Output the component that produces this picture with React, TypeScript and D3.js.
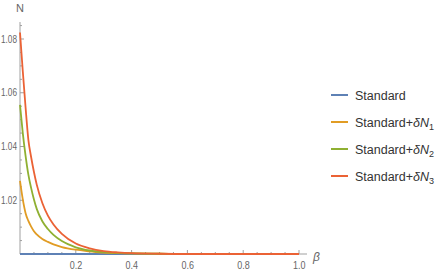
import React, { useEffect, useRef } from 'react';
import * as d3 from 'd3';

// beta sample points
const betas = [0, 0.01, 0.02, 0.03, 0.04, 0.05, 0.06, 0.08, 0.1, 0.12, 0.15, 0.2, 0.25, 0.3, 0.35, 0.4, 0.5, 0.6, 0.8, 1.0];

const standard = [1, 1, 1, 1, 1, 1, 1, 1, 1, 1, 1, 1, 1, 1, 1, 1, 1, 1, 1, 1];
const dN1 = [1.0272, 1.0203, 1.0152, 1.0123, 1.0102, 1.0085, 1.0073, 1.0056, 1.0045, 1.0036, 1.0026, 1.0016, 1.001, 1.0005, 1.0003, 1.0002, 1.0001, 1, 1, 1];
const dN2 = [1.0555, 1.045, 1.0365, 1.0295, 1.0245, 1.0203, 1.0168, 1.0122, 1.0093, 1.0071, 1.0048, 1.0025, 1.0013, 1.0007, 1.0004, 1.0002, 1.0001, 1, 1, 1];
const dN3 = [1.0824, 1.068, 1.0545, 1.0425, 1.036, 1.0305, 1.0258, 1.019, 1.0143, 1.011, 1.0075, 1.0039, 1.0021, 1.0011, 1.0006, 1.0003, 1.0001, 1, 1, 1];

const seriesNames = ['Standard', 'Standard+δN1', 'Standard+δN2', 'Standard+δN3'];
const colors = ['#5E81B5', '#E19C24', '#8FB032', '#EB6235'];

const xTicks = [0.2, 0.4, 0.6, 0.8, 1.0];
const yTicks = [1.02, 1.04, 1.06, 1.08];

const width = 436;
const height = 273;

const App = () => {
  const ref = useRef<SVGSVGElement>(null);

  useEffect(() => {
    const svg = d3.select(ref.current);
    svg.selectAll('*').remove();

    const x = d3.scaleLinear().domain([0, 1]).range([20, 299]);
    const y = d3.scaleLinear().domain([1, 1.08]).range([254, 39]);
    const axisColor = '#a0a0a0';
    const labelColor = '#666';
    const font = 'Liberation Sans, Arial, sans-serif';

    // x axis
    const gx = svg.append('g');
    gx.append('line')
      .attr('x1', x(0)).attr('x2', 307)
      .attr('y1', y(1)).attr('y2', y(1))
      .attr('stroke', axisColor);
    gx.selectAll('line.minor')
      .data(d3.range(0.05, 1.001, 0.05))
      .join('line')
      .attr('class', 'minor')
      .attr('x1', d => x(d)).attr('x2', d => x(d))
      .attr('y1', y(1)).attr('y2', d => y(1) - (xTicks.some(t => Math.abs(t - d) < 1e-6) ? 4 : 2))
      .attr('stroke', axisColor);
    gx.selectAll('text')
      .data(xTicks)
      .join('text')
      .attr('x', d => x(d) - 6)
      .attr('y', 269)
      .attr('textLength', 12.5)
      .attr('lengthAdjust', 'spacingAndGlyphs')
      .attr('fill', labelColor)
      .attr('font-family', font)
      .attr('font-size', 10.5)
      .text(d => d3.format('.1f')(d));
    svg.append('text')
      .attr('x', 313).attr('y', 261)
      .attr('fill', labelColor)
      .attr('font-family', font)
      .attr('font-style', 'italic')
      .attr('font-size', 12)
      .text('β');

    // y axis
    const gy = svg.append('g');
    gy.append('line')
      .attr('x1', x(0)).attr('x2', x(0))
      .attr('y1', y(1)).attr('y2', 22)
      .attr('stroke', axisColor);
    gy.selectAll('line.minor')
      .data(d3.range(1.005, 1.0851, 0.005))
      .join('line')
      .attr('class', 'minor')
      .attr('x1', x(0)).attr('x2', d => x(0) + (yTicks.some(t => Math.abs(t - d) < 1e-6) ? 4 : 2))
      .attr('y1', d => y(d)).attr('y2', d => y(d))
      .attr('stroke', axisColor);
    gy.selectAll('text')
      .data(yTicks)
      .join('text')
      .attr('x', 1)
      .attr('y', d => y(d) + 3.5)
      .attr('textLength', 16)
      .attr('lengthAdjust', 'spacingAndGlyphs')
      .attr('fill', labelColor)
      .attr('font-family', font)
      .attr('font-size', 10.5)
      .text(d => d3.format('.2f')(d));
    svg.append('text')
      .attr('x', 20).attr('y', 12)
      .attr('text-anchor', 'middle')
      .attr('fill', labelColor)
      .attr('font-family', font)
      .attr('font-size', 11)
      .text('N');

    // curves
    const allSeries = [standard, dN1, dN2, dN3];
    const line = d3.line<number>()
      .x((_, i) => x(betas[i]))
      .y(d => y(d))
      .curve(d3.curveMonotoneX);
    svg.append('g')
      .selectAll('path')
      .data(allSeries)
      .join('path')
      .attr('d', d => line(d))
      .attr('fill', 'none')
      .attr('stroke', (_, i) => colors[i])
      .attr('stroke-width', 1.8);

    // legend
    const legendY = d3.scalePoint<string>().domain(seriesNames).range([95, 176]);
    const lg = svg.append('g');
    seriesNames.forEach((name, i) => {
      const yy = legendY(name) as number;
      lg.append('line')
        .attr('x1', 331).attr('x2', 348)
        .attr('y1', yy).attr('y2', yy)
        .attr('stroke', colors[i])
        .attr('stroke-width', 2);
      const t = lg.append('text')
        .attr('x', 355).attr('y', yy + 4.5)
        .attr('fill', '#333')
        .attr('font-family', font)
        .attr('font-size', 12.5);
      if (i === 0) {
        t.text('Standard');
      } else {
        t.append('tspan').text('Standard+');
        t.append('tspan').attr('font-style', 'italic').text('δN');
        t.append('tspan').attr('dy', 3).attr('font-size', 9).text(String(i));
      }
    });
  }, []);

  return (
    <svg
      ref={ref}
      width={width}
      height={height}
      style={{ position: 'absolute', left: 0, top: 0, background: '#fff' }}
    />
  );
};

export default App;
